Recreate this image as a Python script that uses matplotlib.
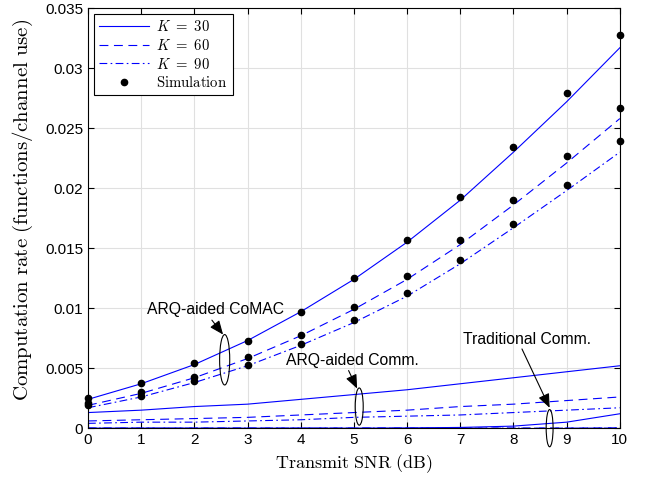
import matplotlib
matplotlib.use("Agg")
import matplotlib.pyplot as plt
from matplotlib.patches import Ellipse
from matplotlib.ticker import FuncFormatter

plt.rcParams['mathtext.fontset'] = 'cm'
plt.rcParams['font.family'] = ['Liberation Sans', 'DejaVu Sans']

snr = [0, 1, 2, 3, 4, 5, 6, 7, 8, 9, 10]

# ARQ-aided CoMAC (analysis)
comac_k30 = [0.0024, 0.0037, 0.0053, 0.0073, 0.0097, 0.0124, 0.0155, 0.0190, 0.0230, 0.0272, 0.0317]
comac_k60 = [0.0019, 0.0029, 0.0042, 0.0058, 0.0077, 0.0099, 0.0124, 0.0153, 0.0186, 0.0221, 0.0258]
comac_k90 = [0.0017, 0.0026, 0.0038, 0.0052, 0.0069, 0.0088, 0.0110, 0.0137, 0.0167, 0.0198, 0.0230]

# simulation points
sim_k30 = [0.0025, 0.0038, 0.0054, 0.0073, 0.0097, 0.0125, 0.0157, 0.0193, 0.0234, 0.0279, 0.0328]
sim_k60 = [0.0021, 0.0030, 0.0043, 0.0059, 0.0078, 0.0101, 0.0127, 0.0157, 0.0190, 0.0227, 0.0267]
sim_k90 = [0.0019, 0.0027, 0.0039, 0.0053, 0.0070, 0.0090, 0.0113, 0.0140, 0.0170, 0.0203, 0.0239]

# ARQ-aided Comm.
arq_k30 = [0.0013, 0.0015, 0.0018, 0.0020, 0.0024, 0.0028, 0.0032, 0.0037, 0.0042, 0.0047, 0.0052]
arq_k60 = [0.0006, 0.0007, 0.0008, 0.0009, 0.0011, 0.0013, 0.0015, 0.0018, 0.0020, 0.0023, 0.0026]
arq_k90 = [0.0004, 0.0005, 0.0005, 0.0006, 0.0007, 0.0009, 0.0010, 0.0011, 0.0013, 0.0015, 0.0017]

# Traditional Comm.
trad_k30 = [0, 0, 0, 0, 0, 0, 0.00002, 0.00006, 0.00017, 0.0005, 0.0012]
trad_k60 = [0, 0, 0, 0, 0, 0, 0, 0, 0, 0.00001, 0.00003]
trad_k90 = [0, 0, 0, 0, 0, 0, 0, 0, 0, 0, 0.00001]

blue = (0, 0, 1)
dash = (0, (8, 5))
dashdot = (0, (7, 3, 1.5, 3))

fig = plt.figure(figsize=(6.47, 4.8), dpi=100)
ax = fig.add_axes([0.136, 0.108, 0.822, 0.875])

ax.plot(snr, comac_k30, color=blue, lw=0.8, label=r'$K\ =\ 30$')
ax.plot(snr, comac_k60, color=blue, lw=0.8, linestyle=dash, label=r'$K\ =\ 60$')
ax.plot(snr, comac_k90, color=blue, lw=0.8, linestyle=dashdot, label=r'$K\ =\ 90$')

for lst, ls in [(arq_k30, '-'), (arq_k60, dash), (arq_k90, dashdot),
                (trad_k30, '-'), (trad_k60, dash), (trad_k90, dashdot)]:
    ax.plot(snr, lst, color=blue, lw=0.8, linestyle=ls)

ax.plot(snr, sim_k30, 'k.', ms=9, label=r'$\mathrm{Simulation}$', clip_on=False)
ax.plot(snr, sim_k60, 'k.', ms=9, clip_on=False)
ax.plot(snr, sim_k90, 'k.', ms=9, clip_on=False)

# ellipses + annotations
for (cx, cy, w, h) in [(2.57, 0.0057, 0.19, 0.0042), (5.1, 0.0018, 0.15, 0.0031), (8.68, 0.0, 0.13, 0.0031)]:
    ax.add_patch(Ellipse((cx, cy), w, h, fill=False, edgecolor='k', lw=0.8, clip_on=False, zorder=5))

arrow = dict(arrowstyle='-|>,head_length=0.6,head_width=0.25', color='k', lw=0.8,
             mutation_scale=14, shrinkA=0, shrinkB=0)
ax.annotate('', xy=(2.54, 0.0078), xytext=(2.33, 0.0090), arrowprops=arrow)
ax.text(2.4, 0.0099, 'ARQ-aided CoMAC', ha='center', va='center', fontsize=11.3)
ax.annotate('', xy=(5.06, 0.0033), xytext=(4.9, 0.0048), arrowprops=arrow)
ax.text(4.98, 0.0056, 'ARQ-aided Comm.', ha='center', va='center', fontsize=11.3)
ax.annotate('', xy=(8.68, 0.0017), xytext=(8.16, 0.0066), arrowprops=arrow)
ax.text(8.25, 0.0074, 'Traditional Comm.', ha='center', va='center', fontsize=11.3)

ax.set_xlim(0, 10)
ax.set_ylim(0, 0.035)
ax.set_xticks(range(0, 11))
ax.set_yticks([i * 0.005 for i in range(8)])
ax.yaxis.set_major_formatter(FuncFormatter(lambda v, p: '%g' % round(v, 4)))
ax.tick_params(direction='in', top=True, right=True, labelsize=11, length=4)
ax.grid(True, color='#e0e0e0', lw=0.8)
ax.set_axisbelow(True)
for s in ax.spines.values():
    s.set_linewidth(0.8)

ax.set_xlabel(r'$\mathrm{Transmit\ SNR\ (dB)}$', fontsize=13)
ax.set_ylabel(r'$\mathrm{Computation\ rate\ (functions/channel\ use)}$', fontsize=15)
ax.yaxis.set_label_coords(-0.1, 0.52)

leg = ax.legend(loc='upper left', fontsize=10.6, fancybox=False, edgecolor='k',
                framealpha=1, handlelength=3.4, borderaxespad=0.4, labelspacing=0.25,
                borderpad=0.35, handletextpad=0.5)
leg.get_frame().set_linewidth(0.8)

fig.savefig('out.png', dpi=100)
